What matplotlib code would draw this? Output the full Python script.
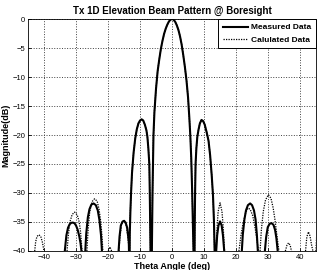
import matplotlib
matplotlib.use("Agg")
import matplotlib.pyplot as plt

plt.rcParams['font.family'] = ['Liberation Sans', 'DejaVu Sans']

# central region (main lobe + first sidelobes), both curves overlap here
theta_main = [-13.2, -13.0, -12.8, -12.5, -12.0, -11.5, -11.0, -10.5, -10.0, -9.5, -9.0, -8.5,
              -8.0, -7.7, -7.4, -7.1, -6.95, -6.85, -6.75, -6.6,
              -6.5, -6.3, -6.2, -6.1, -5.95, -5.8, -5.5, -5.0, -4.5, -4.0, -3.5, -3.0, -2.5,
              -2.0, -1.5, -1.0, -0.5, 0.0, 0.5, 1.0, 1.5, 2.0, 2.5, 3.0, 3.5, 4.0, 4.5, 5.0,
              5.4, 5.7, 6.0, 6.3, 6.5, 6.7, 6.9,
              7.0, 7.1, 7.2, 7.35, 7.6, 7.9, 8.3, 8.7, 9.2, 9.7, 10.2, 10.8, 11.4, 11.9,
              12.4, 12.8, 13.1, 13.3, 13.5]
mag_main = [-37, -33, -30, -26.5, -23, -20.6, -19, -18, -17.5, -17.3, -17.5, -18.2,
            -19.2, -20.3, -22.3, -25, -30, -35, -40, -45,
            -45, -40, -35, -30, -25, -20, -16, -12, -9, -7, -5.2, -3.8, -2.6,
            -1.7, -1.0, -0.45, -0.12, 0.0, -0.12, -0.5, -1.1, -1.9, -3.0, -4.4, -6.2, -8.2, -10.5, -13.5,
            -17, -20, -24, -30, -35, -40, -45,
            -45, -35, -30, -25, -22.3, -20.3, -19, -18, -17.4, -17.6, -18.2, -19.5, -21, -23.5,
            -27, -30.5, -35, -40, -45]

theta_meas_left = [-45, -34.0, -33.5, -33.0, -32.5, -32.0, -31.5, -31.0, -30.5, -30.0, -29.5,
                   -29.0, -28.6, -28.3, -28.0,
                   -27.4, -27.1, -26.8, -26.3, -25.8, -25.2, -24.5, -23.8, -23.2, -22.7, -22.2,
                   -21.9, -21.6,
                   -17.0, -16.7, -16.4, -16.0, -15.5, -15.0, -14.5, -14.0, -13.5, -13.3]
mag_meas_left = [-45, -45, -40, -37.3, -36.0, -35.4, -35.15, -35.1, -35.2, -35.6, -36.3,
                 -37.4, -38.6, -40, -45,
                 -45, -40, -37.0, -34.2, -32.8, -32.0, -31.8, -32.1, -33.0, -34.6, -37.2,
                 -40, -45,
                 -45, -40, -37.5, -35.6, -34.95, -34.8, -35.1, -36.0, -38.5, -45]

theta_meas_right = [13.6, 13.8, 14.1, 14.5, 15.0, 15.5, 15.9, 16.3, 16.6,
                    21.5, 21.8, 22.1, 22.6, 23.1, 23.7, 24.4, 25.0, 25.6, 26.1, 26.5, 26.8, 27.1,
                    28.7, 29.0, 29.4, 29.9, 30.5, 31.1, 31.7, 32.2, 32.6, 33.0, 33.3, 45]
mag_meas_right = [-45, -40, -37.3, -35.6, -34.9, -35.6, -37.3, -40, -45,
                  -45, -40, -37.2, -34.6, -33.0, -32.1, -31.8, -32.1, -33.0, -34.6, -37.2, -40, -45,
                  -45, -40, -37.6, -35.9, -35.3, -35.2, -35.5, -36.4, -37.8, -40, -45, -45]

theta_calc_left = [-45, -43.1, -42.9, -42.6, -42.2, -41.6, -41.0, -40.5, -40.0, -39.7,
                   -33.0, -32.8, -32.4, -31.9, -31.2, -30.4, -29.6, -29.0, -28.6, -28.1, -27.8,
                   -26.9, -26.6, -26.2, -25.7, -25.0, -24.2, -23.4, -22.8, -22.3, -21.9, -21.6, -21.3,
                   -20.1, -19.9, -19.4, -18.9, -18.7,
                   -16.8, -16.6, -16.3, -15.8, -15.0, -14.3, -13.8, -13.4, -13.3]
mag_calc_left = [-45, -45, -40, -38.4, -37.5, -37.2, -37.5, -38.5, -40, -45,
                 -45, -40, -37.3, -35.0, -33.7, -33.3, -33.8, -35.0, -36.6, -40, -45,
                 -45, -40, -36.2, -33.2, -31.5, -31.0, -31.4, -32.8, -34.8, -37.3, -40, -45,
                 -45, -40, -39.3, -40, -45,
                 -45, -40, -37.8, -35.5, -34.6, -35.6, -37.6, -40, -45]

theta_calc_right = [13.5, 13.7, 14.0, 14.4, 15.0, 15.6, 16.0, 16.4, 16.6,
                    20.6, 20.9, 21.5, 22.2, 23.0, 23.7, 24.4, 25.2, 26.0, 26.6, 27.0, 27.2,
                    27.3, 27.5, 27.9, 28.5, 29.2, 30.1, 30.9, 31.6, 32.2, 32.8, 33.4, 33.6,
                    35.2, 35.4, 35.9, 36.4, 36.9, 37.3, 37.5,
                    41.4, 41.7, 42.1, 42.6, 43.1, 43.6, 44.0, 44.2, 44.8, 44.95, 45.3]
mag_calc_right = [-45, -40, -36.6, -33.2, -31.7, -33.2, -36.0, -40, -45,
                  -45, -40, -37.4, -35.2, -33.4, -32.6, -32.8, -33.9, -36.2, -38.4, -40, -45,
                  -45, -40, -36.4, -33.2, -31.2, -30.3, -30.9, -32.6, -34.8, -37.5, -40, -45,
                  -45, -40, -39.0, -38.6, -39.0, -40, -45,
                  -45, -40, -37.6, -36.7, -37.4, -39, -40, -45, -45, -40, -36]

theta_meas = theta_meas_left + theta_main + theta_meas_right
mag_meas = mag_meas_left + mag_main + mag_meas_right
theta_calc = theta_calc_left + theta_main + theta_calc_right
mag_calc = mag_calc_left + mag_main + mag_calc_right

fig = plt.figure(figsize=(3.18, 2.70), dpi=100)
ax = fig.add_axes([0.088, 0.0704, 0.906, 0.8592])

ax.plot(theta_meas, mag_meas, color='k', lw=1.5, label='Measured Data')
ax.plot(theta_calc, mag_calc, color='k', lw=0.9, ls=(0, (1, 1)), label='Calulated Data')

ax.set_xlim(-45, 45)
ax.set_ylim(-40, 0)
ax.set_xticks(range(-40, 41, 10))
ax.set_yticks(range(-40, 1, 5))
ax.tick_params(direction='in', length=2.5, width=0.6, labelsize=5.5, pad=2)
ax.grid(True, color='0.25', ls=':', lw=0.7)
for s in ax.spines.values():
    s.set_linewidth(0.6)

ax.set_title('Tx 1D Elevation Beam Pattern @ Boresight', fontsize=7, fontweight='bold', pad=4)
ax.set_xlabel('Theta Angle (deg)', fontsize=6.5, fontweight='bold', labelpad=1)
ax.set_ylabel('Magnitude(dB)', fontsize=6.5, fontweight='bold', labelpad=1)

leg = ax.legend(loc='upper right', borderaxespad=0, fancybox=False, framealpha=1,
                prop={'size': 6, 'weight': 'bold'}, handlelength=3, handletextpad=0.4,
                labelspacing=0.55, borderpad=0.55)
leg.get_frame().set_edgecolor('k')
leg.get_frame().set_linewidth(0.7)

fig.savefig('out.png', dpi=100)
